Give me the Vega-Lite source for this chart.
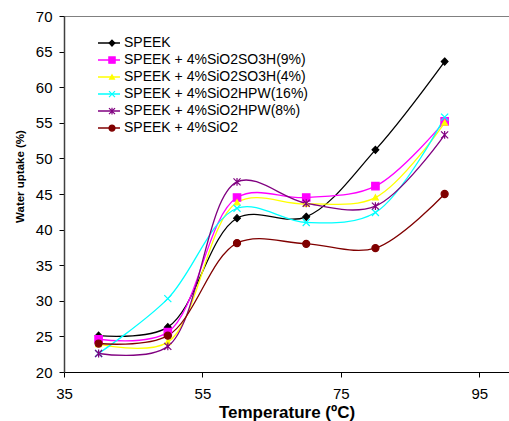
{
  "$schema": "https://vega.github.io/schema/vega-lite/v6.json",
  "autosize": "none",
  "width": 445,
  "height": 356,
  "padding": {"left": 64, "top": 16, "right": 0, "bottom": 49},
  "background": "white",
  "config": {
    "font": "Liberation Sans",
    "view": {"stroke": "#808080", "strokeWidth": 1},
    "axis": {"grid": false, "labelFont": "Liberation Sans", "titleFont": "Liberation Sans", "labelColor": "#000", "titleColor": "#000", "domainColor": "#000", "tickColor": "#000"}
  },
  "data": {"values": [
    {"series": "SPEEK", "t": 40, "w": 25.1},
    {"series": "SPEEK", "t": 50, "w": 26.3},
    {"series": "SPEEK", "t": 60, "w": 41.6},
    {"series": "SPEEK", "t": 70, "w": 41.8},
    {"series": "SPEEK", "t": 80, "w": 51.2},
    {"series": "SPEEK", "t": 90, "w": 63.6},
    {"series": "SPEEK + 4%SiO2SO3H(9%)", "t": 40, "w": 24.6},
    {"series": "SPEEK + 4%SiO2SO3H(9%)", "t": 50, "w": 25.6},
    {"series": "SPEEK + 4%SiO2SO3H(9%)", "t": 60, "w": 44.5},
    {"series": "SPEEK + 4%SiO2SO3H(9%)", "t": 70, "w": 44.5},
    {"series": "SPEEK + 4%SiO2SO3H(9%)", "t": 80, "w": 46.1},
    {"series": "SPEEK + 4%SiO2SO3H(9%)", "t": 90, "w": 55.2},
    {"series": "SPEEK + 4%SiO2SO3H(4%)", "t": 40, "w": 23.9},
    {"series": "SPEEK + 4%SiO2SO3H(4%)", "t": 50, "w": 24.2},
    {"series": "SPEEK + 4%SiO2SO3H(4%)", "t": 60, "w": 43.8},
    {"series": "SPEEK + 4%SiO2SO3H(4%)", "t": 70, "w": 43.6},
    {"series": "SPEEK + 4%SiO2SO3H(4%)", "t": 80, "w": 44.5},
    {"series": "SPEEK + 4%SiO2SO3H(4%)", "t": 90, "w": 55.0},
    {"series": "SPEEK + 4%SiO2HPW(16%)", "t": 40, "w": 22.6},
    {"series": "SPEEK + 4%SiO2HPW(16%)", "t": 50, "w": 30.3},
    {"series": "SPEEK + 4%SiO2HPW(16%)", "t": 60, "w": 43.0},
    {"series": "SPEEK + 4%SiO2HPW(16%)", "t": 70, "w": 41.0},
    {"series": "SPEEK + 4%SiO2HPW(16%)", "t": 80, "w": 42.4},
    {"series": "SPEEK + 4%SiO2HPW(16%)", "t": 90, "w": 55.8},
    {"series": "SPEEK + 4%SiO2HPW(8%)", "t": 40, "w": 22.6},
    {"series": "SPEEK + 4%SiO2HPW(8%)", "t": 50, "w": 23.6},
    {"series": "SPEEK + 4%SiO2HPW(8%)", "t": 60, "w": 46.7},
    {"series": "SPEEK + 4%SiO2HPW(8%)", "t": 70, "w": 43.7},
    {"series": "SPEEK + 4%SiO2HPW(8%)", "t": 80, "w": 43.3},
    {"series": "SPEEK + 4%SiO2HPW(8%)", "t": 90, "w": 53.3},
    {"series": "SPEEK + 4%SiO2", "t": 40, "w": 24.0},
    {"series": "SPEEK + 4%SiO2", "t": 50, "w": 25.1},
    {"series": "SPEEK + 4%SiO2", "t": 60, "w": 38.1},
    {"series": "SPEEK + 4%SiO2", "t": 70, "w": 38.0},
    {"series": "SPEEK + 4%SiO2", "t": 80, "w": 37.4},
    {"series": "SPEEK + 4%SiO2", "t": 90, "w": 45.0}
  ]},
  "encoding": {
    "x": {"field": "t", "type": "quantitative",
      "scale": {"domain": [35, 99.3], "nice": false, "zero": false},
      "axis": {"values": [35, 55, 75, 95], "title": "Temperature (ºC)", "titleFontWeight": "bold", "titleFontSize": 17, "labelFontSize": 15, "tickSize": 5, "labelPadding": 9, "titlePadding": 3, "domainWidth": 1.2, "labelFlush": false}},
    "y": {"field": "w", "type": "quantitative",
      "scale": {"domain": [20, 70], "nice": false, "zero": false},
      "axis": {"values": [20, 25, 30, 35, 40, 45, 50, 55, 60, 65, 70], "title": "Water uptake (%)", "titleFontWeight": "bold", "titleFontSize": 11.5, "labelFontSize": 15, "tickSize": 5, "labelPadding": 7, "titlePadding": 10, "titleY": 160, "domainColor": "#404040", "domainWidth": 1.5}}
  },
  "layer": [
    {
      "mark": {"type": "line", "interpolate": "catmull-rom", "strokeWidth": 1.3},
      "encoding": {
        "color": {"field": "series", "type": "nominal",
          "scale": {"domain": ["SPEEK", "SPEEK + 4%SiO2SO3H(9%)", "SPEEK + 4%SiO2SO3H(4%)", "SPEEK + 4%SiO2HPW(16%)", "SPEEK + 4%SiO2HPW(8%)", "SPEEK + 4%SiO2", " "],
                    "range": ["#000000", "#FF00FF", "#FFFF00", "#00FFFF", "#800080", "#800000", "#ffffff"]},
          "legend": {
            "values": ["SPEEK", "SPEEK + 4%SiO2SO3H(9%)", "SPEEK + 4%SiO2SO3H(4%)", "SPEEK + 4%SiO2HPW(16%)", "SPEEK + 4%SiO2HPW(8%)", "SPEEK + 4%SiO2"],
            "title": null, "orient": "none", "legendX": 33, "legendY": 19, "padding": 0,
            "labelFontSize": 14, "labelFont": "Liberation Sans", "labelColor": "#000",
            "symbolType": "stroke", "symbolSize": 484, "symbolStrokeWidth": 1.5, "labelOffset": 3, "rowPadding": 0, "clipHeight": 16.2,
            "labelLimit": 300
          }}
      }
    },
    {
      "mark": {"type": "point", "filled": true, "size": 50, "opacity": 1, "strokeWidth": 1.2},
      "encoding": {
        "fill": {"field": "series", "type": "nominal",
          "scale": {"domain": ["SPEEK", "SPEEK + 4%SiO2SO3H(9%)", "SPEEK + 4%SiO2SO3H(4%)", "SPEEK + 4%SiO2HPW(16%)", "SPEEK + 4%SiO2HPW(8%)", "SPEEK + 4%SiO2"],
                    "range": ["#000000", "#FF00FF", "#FFFF00", "#00FFFF", "#800080", "#800000"]},
          "legend": {
            "title": null, "orient": "none", "legendX": 41, "legendY": 19, "padding": 0,
            "labelExpr": "''", "labelFontSize": 14,
            "symbolSize": 36, "symbolStrokeWidth": 1.2, "symbolOpacity": 1, "labelOffset": 0, "rowPadding": 0, "clipHeight": 16.2
          }},
        "stroke": {"field": "series", "type": "nominal",
          "scale": {"domain": ["SPEEK", "SPEEK + 4%SiO2SO3H(9%)", "SPEEK + 4%SiO2SO3H(4%)", "SPEEK + 4%SiO2HPW(16%)", "SPEEK + 4%SiO2HPW(8%)", "SPEEK + 4%SiO2"],
                    "range": ["#000000", "#FF00FF", "#FFFF00", "#00FFFF", "#800080", "#800000"]},
          "legend": {
            "title": null, "orient": "none", "legendX": 41, "legendY": 19, "padding": 0,
            "labelExpr": "''", "labelFontSize": 14,
            "symbolSize": 36, "symbolStrokeWidth": 1.2, "symbolOpacity": 1, "labelOffset": 0, "rowPadding": 0, "clipHeight": 16.2
          }},
        "shape": {"field": "series", "type": "nominal",
          "scale": {"domain": ["SPEEK", "SPEEK + 4%SiO2SO3H(9%)", "SPEEK + 4%SiO2SO3H(4%)", "SPEEK + 4%SiO2HPW(16%)", "SPEEK + 4%SiO2HPW(8%)", "SPEEK + 4%SiO2"],
                    "range": ["M0,-1L0.95,0L0,1L-0.95,0Z", "M-1.05,-1.05H1.05V1.05H-1.05Z", "M0,-0.8L0.8,0.65H-0.8Z", "M-1,-1L1,1M-1,1L1,-1", "M-1,-1L1,1M-1,1L1,-1M0,-1.1V1.1", "circle"]},
          "legend": {
            "title": null, "orient": "none", "legendX": 41, "legendY": 19, "padding": 0,
            "labelExpr": "''", "labelFontSize": 14,
            "symbolSize": 36, "symbolStrokeWidth": 1.2, "symbolOpacity": 1, "labelOffset": 0, "rowPadding": 0, "clipHeight": 16.2
          }}
      }
    }
  ]
}
